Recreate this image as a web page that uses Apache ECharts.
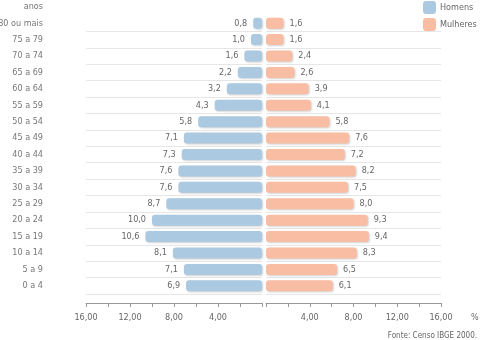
<!DOCTYPE html>
<html><head><meta charset="utf-8">
<script src="https://cdn.jsdelivr.net/npm/echarts@6/dist/echarts.min.js"></script>
<style>html,body{margin:0;padding:0;background:#fff}#c{width:480px;height:340px}</style>
</head><body><div id="c"></div>
<script>
const categories = ['0 a 4','5 a 9','10 a 14','15 a 19','20 a 24','25 a 29','30 a 34','35 a 39','40 a 44','45 a 49','50 a 54','55 a 59','60 a 64','65 a 69','70 a 74','75 a 79','80 ou mais'];
const homens   = [6.9, 7.1, 8.1, 10.6, 10.0, 8.7, 7.6, 7.6, 7.3, 7.1, 5.8, 4.3, 3.2, 2.2, 1.6, 1.0, 0.8];
const mulheres = [6.1, 6.5, 8.3, 9.4, 9.3, 8.0, 7.5, 8.2, 7.2, 7.6, 5.8, 4.1, 3.9, 2.6, 2.4, 1.6, 1.6];
const tickLabels = [4, 8, 12, 16];
const unitText = '%';
const yTitle = 'anos';
const sourceText = 'Fonte: Censo IBGE 2000.';

const FONT = 'Tahoma, "DejaVu Sans Condensed", "DejaVu Sans", sans-serif';
const BLUE = '#abc9e0', SALMON = '#f9bda4';
const fmt1 = v => v.toFixed(1).replace('.', ',');
const fmt2 = v => tickLabels.indexOf(v) >= 0 ? v.toFixed(2).replace('.', ',') : '';

const chart = echarts.init(document.getElementById('c'));
const xAxisCommon = {
  type: 'value', min: 0, max: 16, interval: 2, offset: 9,
  axisLine: {show: true, lineStyle: {color: '#999'}},
  axisTick: {show: true, length: 4, lineStyle: {color: '#999'}},
  axisLabel: {formatter: fmt2, color: '#666', fontFamily: FONT, fontSize: 9, margin: 10, showMinLabel: true, showMaxLabel: true},
  splitLine: {show: false}
};
const yAxisCommon = {
  type: 'category', data: categories,
  axisLine: {show: false}, axisTick: {show: false},
  splitLine: {show: true, showMaxLine: false, showMinLine: true, lineStyle: {color: '#e6e6e6', width: 1}}
};
const itemShadow = {shadowColor: 'rgba(0,0,0,0.18)', shadowBlur: 2, shadowOffsetX: 1, shadowOffsetY: 1, borderRadius: 3};
chart.setOption({
  animation: false,
  textStyle: {fontFamily: FONT},
  grid: [
    {left: 86, width: 176, top: 15, height: 279, containLabel: false, outerBoundsMode: 'none'},
    {left: 266, width: 175, top: 15, height: 279, containLabel: false, outerBoundsMode: 'none'}
  ],
  xAxis: [
    Object.assign({}, xAxisCommon, {gridIndex: 0, inverse: true}),
    Object.assign({}, xAxisCommon, {gridIndex: 1})
  ],
  yAxis: [
    Object.assign({}, yAxisCommon, {gridIndex: 0, position: 'left',
      axisLabel: {show: true, margin: 43, color: '#777', fontFamily: FONT, fontSize: 9}}),
    Object.assign({}, yAxisCommon, {gridIndex: 1, axisLabel: {show: false}})
  ],
  legend: {
    orient: 'vertical', left: 423, top: 1, padding: 0, itemWidth: 13, itemHeight: 13, itemGap: 4,
    icon: 'roundRect',
    textStyle: {color: '#666', fontFamily: FONT, fontSize: 9, padding: [0, 0, 0, -1]},
    data: ['Homens', 'Mulheres']
  },
  series: [
    {name: 'Homens', type: 'bar', xAxisIndex: 0, yAxisIndex: 0, data: homens, barWidth: 11,
     itemStyle: Object.assign({color: BLUE}, itemShadow),
     label: {show: true, position: 'left', distance: 6, color: '#666', fontFamily: FONT, fontSize: 9, formatter: p => fmt1(p.value)}},
    {name: 'Mulheres', type: 'bar', xAxisIndex: 1, yAxisIndex: 1, data: mulheres, barWidth: 11,
     itemStyle: Object.assign({color: SALMON}, itemShadow),
     label: {show: true, position: 'right', distance: 6, color: '#666', fontFamily: FONT, fontSize: 9, formatter: p => fmt1(p.value)}}
  ],
  graphic: [
    {type: 'text', right: 437, top: 2, style: {text: yTitle, fill: '#777', font: '9px ' + FONT, textAlign: 'right'}},
    {type: 'text', left: 471, top: 313, style: {text: unitText, fill: '#666', font: '9px ' + FONT}},
    {type: 'text', right: 3, top: 332, style: {text: sourceText, fill: '#666', font: '8px ' + FONT}}
  ]
});
</script>
</body></html>
